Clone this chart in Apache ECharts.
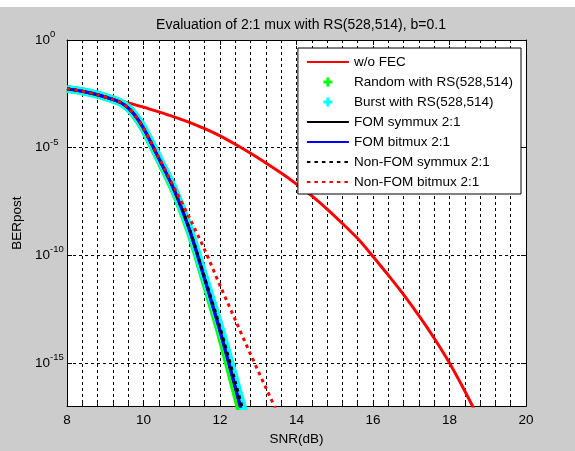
<!DOCTYPE html>
<html>
<head>
<meta charset="utf-8">
<title>Evaluation of 2:1 mux with RS(528,514)</title>
<script src="https://cdn.jsdelivr.net/npm/echarts@6/dist/echarts.min.js"></script>
<style>
  html, body { margin: 0; padding: 0; background: #fff; }
  #chart { width: 575px; height: 451px; background: linear-gradient(#fff 0, #fff 7px, #cccccc 7px); }
</style>
</head>
<body>
<div id="chart"></div>
<script>
// values: BER (post FEC) against SNR in dB
const snrNoFec = [8, 8.4, 8.8, 9.2, 9.6, 10, 10.4, 10.8, 11.2, 11.6, 12, 12.4, 12.8, 13.2, 13.6, 14, 14.4, 14.8, 15.2, 15.6, 16, 16.4, 16.8, 17.2, 17.6, 18, 18.4, 18.8];
const berNoFec = [5.37e-3, 4.17e-3, 2.88e-3, 1.91e-3, 1.20e-3, 7.59e-4, 4.57e-4, 2.69e-4, 1.51e-4, 7.59e-5, 3.55e-5, 1.45e-5, 5.50e-6, 1.95e-6, 6.61e-7, 2.04e-7, 5.75e-8, 1.41e-8, 3.02e-9, 6.03e-10, 8.91e-11, 1.20e-11, 1.51e-12, 1.58e-13, 1.41e-14, 1.0e-15, 5.01e-17, 2.0e-18];

const snrFec = [8, 8.4, 8.8, 9.2, 9.4, 9.6, 9.8, 10, 10.4, 10.8, 11.2, 11.6, 12, 12.4, 12.8];
const berRandom = [5.37e-3, 4.17e-3, 2.88e-3, 1.74e-3, 1.26e-3, 7.0e-4, 2.7e-4, 7.6e-5, 3.0e-6, 1.0e-7, 1.4e-9, 6.6e-12, 2.5e-14, 5.0e-17, 1.0e-19];
const berBurst = [5.37e-3, 4.17e-3, 2.88e-3, 1.74e-3, 1.26e-3, 7.2e-4, 2.9e-4, 8.2e-5, 3.4e-6, 1.2e-7, 1.8e-9, 9.5e-12, 5.0e-14, 1.6e-16, 4.0e-19];
const berFomSym = [5.37e-3, 4.17e-3, 2.88e-3, 1.74e-3, 1.26e-3, 7.1e-4, 2.8e-4, 7.9e-5, 3.2e-6, 1.1e-7, 1.6e-9, 7.9e-12, 3.0e-14, 7.0e-17, 1.3e-19];
const berFomBit = [5.37e-3, 4.17e-3, 2.88e-3, 1.74e-3, 1.26e-3, 7.1e-4, 2.8e-4, 7.9e-5, 3.2e-6, 1.1e-7, 1.6e-9, 7.9e-12, 3.2e-14, 7.9e-17, 1.6e-19];
const berNonFomSym = [5.37e-3, 4.17e-3, 2.88e-3, 1.74e-3, 1.26e-3, 7.1e-4, 2.8e-4, 8.0e-5, 3.3e-6, 1.2e-7, 1.7e-9, 9.0e-12, 4.5e-14, 1.3e-16, 3.2e-19];

const snrNonFomBit = [8, 8.4, 8.8, 9.2, 9.4, 9.6, 9.8, 10, 10.4, 10.8, 11.2, 11.6, 12, 12.4, 12.8, 13.2, 13.6];
const berNonFomBit = [5.37e-3, 4.17e-3, 2.88e-3, 1.74e-3, 1.26e-3, 7.1e-4, 2.8e-4, 8.0e-5, 3.5e-6, 1.4e-7, 5.6e-9, 1.8e-10, 4.0e-12, 1.0e-13, 2.5e-15, 7.1e-17, 2.0e-18];

const berThreshold = 1e-13;
const yTicks = [1e-15, 1e-10, 1e-5, 1];

const FONT = 'Liberation Sans, Arial, sans-serif';
const plusIcon = 'path://M3,0h3v3h3v3h-3v3h-3v-3h-3v-3h3z';
const pairs = (xs, ys) => xs.map((x, i) => [x, ys[i]]);

const chart = echarts.init(document.getElementById('chart'));

const dash = { color: '#000', width: 1, type: [3, 3] };

const option = {
  backgroundColor: 'transparent',
  textStyle: { fontFamily: FONT },
  title: {
    text: 'Evaluation of 2:1 mux with RS(528,514), b=0.1',
    left: 296,
    top: 13,
    textAlign: 'center',
    textStyle: { fontFamily: FONT, fontSize: 14, fontWeight: 'normal', color: '#000' }
  },
  legend: {
    orient: 'vertical',
    right: 54,
    top: 48,
    padding: [7, 8, 5, 8],
    itemWidth: 42,
    itemHeight: 9,
    itemGap: 6,
    backgroundColor: '#fff',
    borderColor: '#000',
    borderWidth: 1,
    borderRadius: 0,
    itemStyle: { opacity: 0 },
    textStyle: { fontFamily: FONT, fontSize: 13.5, color: '#000', lineHeight: 14 },
    data: [
      { name: 'w/o FEC' },
      { name: 'Random with RS(528,514)', icon: plusIcon, itemStyle: { color: '#00ff00', opacity: 1 } },
      { name: 'Burst with RS(528,514)', icon: plusIcon, itemStyle: { color: '#00ffff', opacity: 1 } },
      { name: 'FOM symmux 2:1' },
      { name: 'FOM bitmux 2:1' },
      { name: 'Non-FOM symmux 2:1' },
      { name: 'Non-FOM bitmux 2:1' }
    ]
  },
  grid: {
    left: 67, right: 49, top: 40, bottom: 42,
    show: true, backgroundColor: '#fff', borderWidth: 0
  },
  xAxis: [
    {
      type: 'value', min: 8, max: 20, interval: 2,
      name: 'SNR(dB)', nameLocation: 'middle', nameGap: 24,
      nameTextStyle: { fontFamily: FONT, fontSize: 13.5, color: '#000' },
      axisLine: { show: true, lineStyle: { color: '#000', width: 1 } },
      axisTick: { show: true, inside: true, length: 5, lineStyle: { color: '#000' } },
      minorTick: { show: true, splitNumber: 5, length: 3, lineStyle: { color: '#000' } },
      axisLabel: { color: '#000', fontFamily: FONT, fontSize: 13.5, margin: 7 },
      splitLine: { show: true, lineStyle: dash },
      minorSplitLine: { show: true, lineStyle: dash }
    },
    {
      type: 'value', min: 8, max: 20, interval: 2, position: 'top',
      axisLine: { show: true, lineStyle: { color: '#000', width: 1 } },
      axisTick: { show: true, inside: true, length: 5, lineStyle: { color: '#000' } },
      minorTick: { show: true, splitNumber: 5, length: 3, lineStyle: { color: '#000' } },
      axisLabel: { show: false },
      splitLine: { show: false }
    }
  ],
  yAxis: [
    {
      type: 'log', logBase: 10, min: 1e-17, max: 1,
      name: 'BERpost', nameLocation: 'middle', nameGap: 42,
      nameTextStyle: { fontFamily: FONT, fontSize: 13.5, color: '#000' },
      axisLine: { show: true, lineStyle: { color: '#000', width: 1 } },
      axisTick: { show: true, inside: true, length: 5, customValues: yTicks, lineStyle: { color: '#000' } },
      minorTick: { show: false },
      axisLabel: {
        customValues: yTicks,
        align: 'left',
        margin: 32,
        color: '#000',
        formatter: v => '{b|10}{s|' + Math.round(Math.log10(v)) + '}',
        rich: {
          b: { fontFamily: FONT, fontSize: 13.5, color: '#000' },
          s: { fontFamily: FONT, fontSize: 9.5, color: '#000', padding: [0, 0, 11, 0] }
        }
      },
      splitLine: { show: true, lineStyle: dash }
    },
    {
      type: 'log', logBase: 10, min: 1e-17, max: 1, position: 'right',
      axisLine: { show: true, lineStyle: { color: '#000', width: 1 } },
      axisTick: { show: true, inside: true, length: 5, customValues: yTicks, lineStyle: { color: '#000' } },
      axisLabel: { show: false },
      splitLine: { show: false }
    }
  ],
  series: [
    {
      name: 'w/o FEC', type: 'line', data: pairs(snrNoFec, berNoFec),
      symbol: 'none', smooth: 0.3, color: '#ff0000',
      lineStyle: { color: '#ff0000', width: 3 },
      markLine: {
        silent: true, symbol: 'none', label: { show: false },
        lineStyle: { color: '#ff0000', width: 1, type: 'solid' },
        data: [{ yAxis: berThreshold }]
      }
    },
    {
      name: 'Random with RS(528,514)', type: 'line', data: pairs(snrFec, berRandom),
      symbol: 'none', smooth: 0.3, color: '#00ff00',
      lineStyle: { color: '#00ff00', width: 8 }
    },
    {
      name: 'Burst with RS(528,514)', type: 'line', data: pairs(snrFec, berBurst),
      symbol: 'none', smooth: 0.3, color: '#00ffff',
      lineStyle: { color: '#00ffff', width: 8 }
    },
    {
      name: 'FOM symmux 2:1', type: 'line', data: pairs(snrFec, berFomSym),
      symbol: 'none', smooth: 0.3, color: '#000000',
      lineStyle: { color: '#000000', width: 3 }
    },
    {
      name: 'FOM bitmux 2:1', type: 'line', data: pairs(snrFec, berFomBit),
      symbol: 'none', smooth: 0.3, color: '#0000ff',
      lineStyle: { color: '#0000ff', width: 3 }
    },
    {
      name: 'Non-FOM symmux 2:1', type: 'line', data: pairs(snrFec, berNonFomSym),
      symbol: 'none', smooth: 0.3, color: '#000000',
      lineStyle: { color: '#000000', width: 3, type: [3.5, 4] }
    },
    {
      name: 'Non-FOM bitmux 2:1', type: 'line', data: pairs(snrNonFomBit, berNonFomBit),
      symbol: 'none', smooth: 0.3, color: '#ff0000',
      lineStyle: { color: '#ff0000', width: 3, type: [3.5, 4] }
    }
  ]
};

chart.setOption(option);
window.addEventListener('resize', () => chart.resize());
</script>
</body>
</html>
